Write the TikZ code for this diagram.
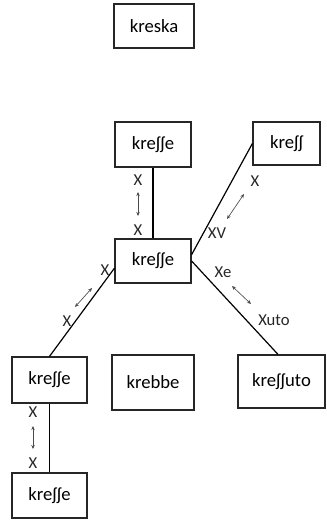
\documentclass[tikz,border=0pt]{standalone}
\usepackage{fontspec}
\setmainfont{Carlito}
\usetikzlibrary{arrows.meta,calc}
\tikzset{
  wbox/.style={draw=black!85, line width=0.9pt, inner sep=0pt, font=\fontsize{14}{16}\selectfont},
  lbl/.style={inner sep=0pt, font=\fontsize{12.5}{14}\selectfont, text=black!85},
  conn/.style={draw=black, line width=0.9pt},
  darr/.style={draw=black!70, line width=0.5pt, {Stealth[length=3pt,width=2.6pt]}-{Stealth[length=3pt,width=2.6pt]}}
}
\begin{document}
\begin{tikzpicture}[x=0.75pt,y=-0.75pt]
\useasboundingbox (0,0) rectangle (327,521);
% boxes
\node[wbox, minimum width=60pt, minimum height=33pt] (kreska) at (154,26) {kreska};
\node[wbox, minimum width=57pt, minimum height=33.75pt] (top) at (153,144.5) {kreʃʃe};
\node[wbox, minimum width=50.25pt, minimum height=32.25pt] (kress) at (286.5,143.5) {kreʃʃ};
\node[wbox, minimum width=57pt, minimum height=33pt] (mid) at (153,261) {kreʃʃe};
\node[wbox, minimum width=56.25pt, minimum height=34.5pt] (left) at (49.5,380) {kreʃʃe};
\node[wbox, minimum width=61.5pt, minimum height=41.25pt] (krebbe) at (153,382.5) {krebbe};
\node[wbox, minimum width=65.25pt, minimum height=39.75pt] (uto) at (281.5,381.5) {kreʃʃuto};
\node[wbox, minimum width=56.25pt, minimum height=33.75pt] (bot) at (49.5,495.5) {kreʃʃe};
% connectors
\draw[conn] (top.south) -- (mid.north);
\draw[conn] ($(mid.north east)!0.36!(mid.south east)$) -- (kress.west);
\draw[conn] ($(mid.north east)!0.5!(mid.south east)$) -- ($(uto.north)+(-3.5,0)$);
\draw[conn] ($(mid.north west)!0.66!(mid.south west)$) -- (left.north);
\draw[conn] (left.south) -- (bot.north);
% labels
\node[lbl] (t1) at (138,180) {X};
\node[lbl] (t2) at (138,230) {X};
\node[lbl] (r1) at (255,181) {X};
\node[lbl] (r2) at (217,233) {XV};
\node[lbl] (e1) at (223,272) {Xe};
\node[lbl] (e2) at (274,320) {Xuto};
\node[lbl] (l1) at (105,270) {X};
\node[lbl] (l2) at (67,321) {X};
\node[lbl] (b1) at (33,412) {X};
\node[lbl] (b2) at (33,463) {X};
% double arrows
\coordinate (ta) at (138,192); \coordinate (tb) at (138,216);
\coordinate (ra) at (244,194); \coordinate (rb) at (227,219);
\coordinate (ea) at (232,286); \coordinate (eb) at (251,304);
\coordinate (la) at (75,307);  \coordinate (lb) at (92,288);
\coordinate (ba) at (33,426);  \coordinate (bb) at (33,449);
\draw[darr] (ta) -- (tb);
\draw[darr] (ra) -- (rb);
\draw[darr] (ea) -- (eb);
\draw[darr] (la) -- (lb);
\draw[darr] (ba) -- (bb);
\end{tikzpicture}
\end{document}
